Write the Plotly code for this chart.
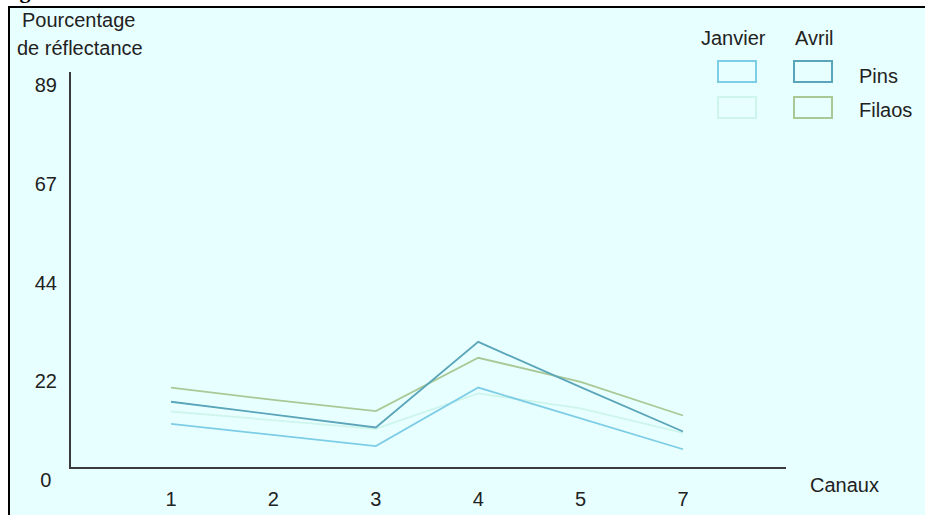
import plotly.graph_objects as go

# ---- data ----
canaux = ["1", "2", "3", "4", "5", "7"]
pins_janvier = [9.7, 7.2, 4.7, 17.9, 11.0, 4.0]
pins_avril = [14.7, 11.8, 8.9, 28.2, 18.0, 8.0]
filaos_janvier = [12.5, 10.5, 8.6, 16.6, 13.2, 7.7]
filaos_avril = [17.9, 15.1, 12.6, 24.6, 19.2, 11.6]

y_tick_vals = [0, 22.25, 44.5, 66.75, 89]
y_tick_text = ["0\u00a0", "22", "44", "67", "89"]

col_pj = "rgb(125,205,230)"
col_pa = "rgb(90,165,185)"
col_fj = "rgb(205,245,235)"
col_fa = "rgb(170,200,150)"
bg = "rgb(232,255,255)"
font_fam = "Liberation Sans, Arial, sans-serif"
fs = 20

W, H = 925, 515
# plot area in screen coordinates
L, R, T, B = 71, 786, 72, 467


def px(x):
    return (x - L) / (R - L)


def py(y):
    return (B - y) / (B - T)


fig = go.Figure()
xi = list(range(len(canaux)))
for name, vals, col in [
    ("Filaos Janvier", filaos_janvier, col_fj),
    ("Pins Janvier", pins_janvier, col_pj),
    ("Filaos Avril", filaos_avril, col_fa),
    ("Pins Avril", pins_avril, col_pa),
]:
    fig.add_trace(go.Scatter(x=xi, y=vals, mode="lines", name=name,
                             line=dict(color=col, width=1.8), showlegend=False,
                             hoverinfo="skip"))

shapes = []
# white strips outside frame
shapes.append(dict(type="rect", xref="paper", yref="paper", x0=px(-20), x1=px(940),
                   y0=py(-20), y1=py(6), fillcolor="white", line=dict(width=0), layer="below"))
shapes.append(dict(type="rect", xref="paper", yref="paper", x0=px(-20), x1=px(8),
                   y0=py(-20), y1=py(540), fillcolor="white", line=dict(width=0), layer="below"))
# black frame lines
shapes.append(dict(type="line", xref="paper", yref="paper", x0=px(8), x1=px(940),
                   y0=py(7), y1=py(7), line=dict(color="black", width=2)))
shapes.append(dict(type="line", xref="paper", yref="paper", x0=px(9), x1=px(9),
                   y0=py(6), y1=py(540), line=dict(color="black", width=2)))

annotations = []
legend = [
    (718, 756, 61, 82, col_pj), (794, 832, 61, 82, col_pa),
    (718, 756, 97, 118, col_fj), (794, 832, 97, 118, col_fa),
]
for x0, x1, y0, y1, c in legend:
    shapes.append(dict(type="rect", xref="paper", yref="paper", x0=px(x0), x1=px(x1),
                       y0=py(y1), y1=py(y0), line=dict(color=c, width=2), fillcolor=bg))


def ann(text, x, y, xanchor="center", size=fs, color="#222", **kw):
    annotations.append(dict(text=text, xref="paper", yref="paper", x=px(x), y=py(y),
                            xanchor=xanchor, yanchor="middle", showarrow=False,
                            font=dict(family=font_fam, size=size, color=color), **kw))


ann("Janvier", 733, 38)
ann("Avril", 814, 38)
ann("Pins", 857, 76, xanchor="left")
ann("Filaos", 857, 110, xanchor="left")
ann("Pourcentage", 20, 20, xanchor="left")
ann("de réflectance", 15, 48, xanchor="left")
ann("Canaux", 844, 485)
annotations.append(dict(text="<b>Fig</b>", xref="paper", yref="paper", x=px(-2), y=py(5),
                        xanchor="left", yanchor="bottom", showarrow=False,
                        font=dict(family="Liberation Serif, Times New Roman, serif", size=22, color="black")))

fig.update_layout(
    width=W, height=H,
    margin=dict(l=L, r=W - R, t=T, b=H - B, pad=0, autoexpand=False),
    paper_bgcolor=bg, plot_bgcolor=bg,
    shapes=shapes, annotations=annotations,
    showlegend=False,
    font=dict(family=font_fam, size=fs, color="#222"),
    xaxis=dict(tickvals=xi, ticktext=canaux, range=[-0.977, 6.006], showgrid=False,
               zeroline=False, showline=True, linecolor="#3a3a3a", linewidth=2,
               ticks="", ticklabelstandoff=13, fixedrange=True, automargin=False),
    yaxis=dict(tickvals=y_tick_vals, ticktext=y_tick_text, range=[0, 89], showgrid=False,
               zeroline=False, showline=True, linecolor="#3a3a3a", linewidth=2,
               ticks="", ticklabelstandoff=8, ticklabelshift=13, fixedrange=True,
               automargin=False),
)

fig.write_html(
    "out.html",
    config={"displayModeBar": False},
    post_script="document.body.style.margin='0';document.body.style.overflow='hidden';",
)
